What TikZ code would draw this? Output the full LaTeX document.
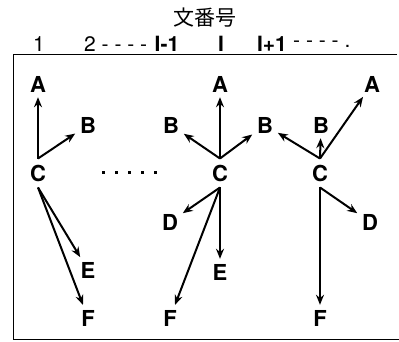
\documentclass[tikz,border=0pt]{standalone}
\usepackage{fontspec}
\setmainfont{TeX Gyre Heros}
\newfontfamily\jpfont{Noto Sans CJK JP}
\usetikzlibrary{arrows.meta}

\begin{document}
\begin{tikzpicture}[x=1pt,y=-1pt,
  lbl/.style={font=\bfseries\fontsize{22}{22}\selectfont,inner sep=3pt},
  cnode/.style={lbl,inner ysep=6pt},
  hdr/.style={font=\fontsize{21}{21}\selectfont,inner sep=0pt},
  arr/.style={-{Stealth[length=10pt,width=8pt]},line width=2pt,shorten >=2pt}]
\useasboundingbox (0,0) rectangle (399,341);
\node[font=\jpfont\fontsize{21}{21}\selectfont] (title) at (205,18) {文番号};
\node[hdr] (h1) at (39,44) {1};
\node[hdr,anchor=west] (h2) at (84,44) {2 - - - -};
\node[hdr,font=\bfseries\fontsize{21}{21}\selectfont] (hIm) at (167,44) {I-1};
\node[hdr,font=\bfseries\fontsize{21}{21}\selectfont] (hI) at (221,44) {I};
\node[hdr,font=\bfseries\fontsize{21}{21}\selectfont] (hIp) at (272,44) {I+1};
\node[hdr,anchor=west] (hd) at (293,44) {- - - - .};
\draw[line width=0.8pt] (397,54)--(13,54)--(13,339)--(399,339);

\node[lbl] (A1) at (38,84) {A};
\node[lbl] (B1) at (88,125) {B};
\node[cnode] (C1) at (38,173) {C};
\node[lbl] (E1) at (88,270) {E};
\node[lbl] (F1) at (88,318) {F};
\foreach \t in {A1,B1}{\draw[arr] (C1.north)--(\t);}
\foreach \t in {E1,F1}{\draw[arr] (C1.south)--(\t);}

\draw[line width=3pt,dash pattern=on 3pt off 10pt] (102,172)--(165,172);

\node[lbl] (A2) at (220,84) {A};
\node[lbl] (B2) at (171,125) {B};
\node[lbl] (B23) at (265,125) {B};
\node[cnode] (C2) at (220,173) {C};
\node[lbl] (D2) at (170,222) {D};
\node[lbl] (E2) at (220,272) {E};
\node[lbl] (F2) at (170,318) {F};
\foreach \t in {A2,B2,B23}{\draw[arr] (C2.north)--(\t);}
\foreach \t in {D2,E2,F2}{\draw[arr] (C2.south)--(\t);}

\node[lbl] (A3) at (372,84) {A};
\node[lbl] (B3) at (321,125) {B};
\node[cnode] (C3) at (320,173) {C};
\node[lbl] (D3) at (370,222) {D};
\node[lbl] (F3) at (320,318) {F};
\foreach \t in {A3,B3,B23}{\draw[arr] (C3.north)--(\t);}
\foreach \t in {D3,F3}{\draw[arr] (C3.south)--(\t);}
\end{tikzpicture}
\end{document}
